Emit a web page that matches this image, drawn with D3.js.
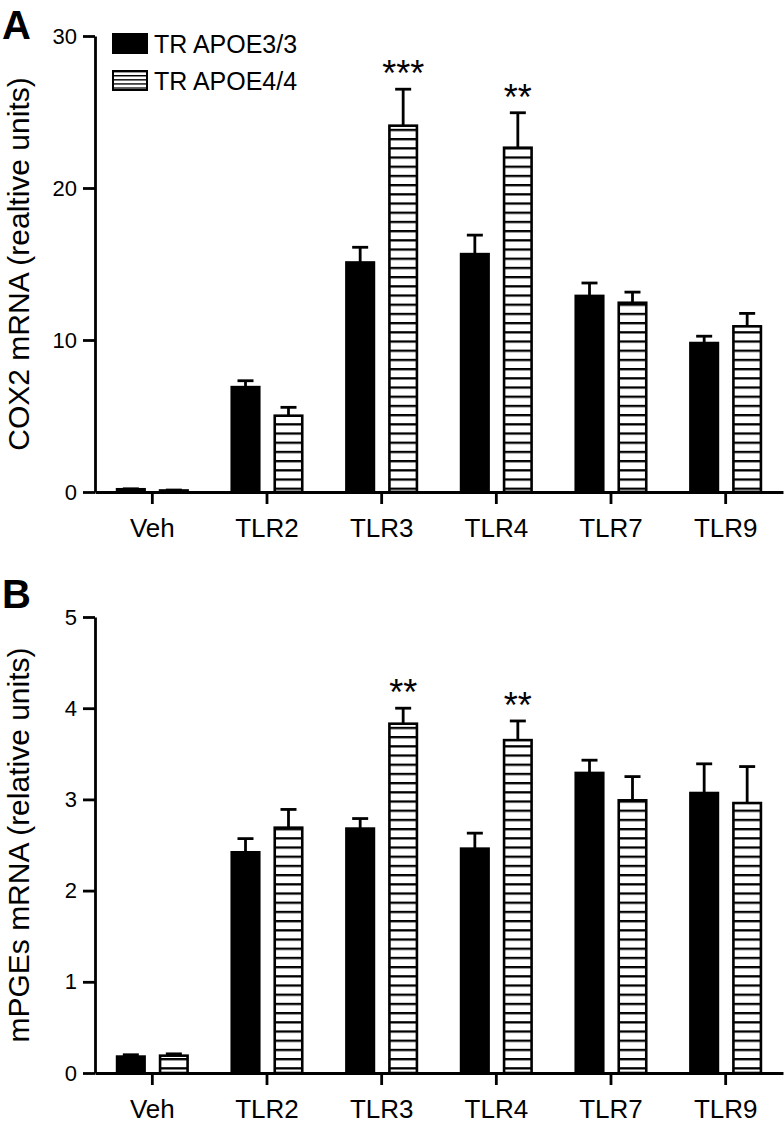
<!DOCTYPE html>
<html>
<head>
<meta charset="utf-8">
<script src="https://cdn.jsdelivr.net/npm/d3@7/dist/d3.min.js"></script>
<style>
  html, body { margin: 0; padding: 0; background: #fff; }
  svg { display: block; }
  text { font-family: "Liberation Sans", Arial, Helvetica, sans-serif; fill: #000; }
</style>
</head>
<body>
<svg id="chart" width="784" height="1127"></svg>
<script>
// ---------- data ----------
const categories = ["Veh", "TLR2", "TLR3", "TLR4", "TLR7", "TLR9"];
const seriesNames = ["TR APOE3/3", "TR APOE4/4"];

// Panel A: COX2 mRNA
const coxE3 = [0.18, 6.9, 15.1, 15.65, 12.9, 9.8];
const coxE3Err = [0.03, 0.42, 1.0, 1.25, 0.85, 0.45];
const coxE4 = [0.1, 5.02, 24.1, 22.65, 12.45, 10.9];
const coxE4Err = [0.03, 0.55, 2.4, 2.3, 0.7, 0.85];
const coxSig = ["", "", "***", "**", "", ""];
const coxTicks = [0, 10, 20, 30];

// Panel B: mPGEs mRNA
const pgeE3 = [0.18, 2.42, 2.68, 2.46, 3.29, 3.07];
const pgeE3Err = [0.02, 0.15, 0.11, 0.17, 0.14, 0.32];
const pgeE4 = [0.19, 2.69, 3.83, 3.65, 2.99, 2.96];
const pgeE4Err = [0.02, 0.2, 0.17, 0.21, 0.26, 0.4];
const pgeSig = ["", "", "**", "**", "", ""];
const pgeTicks = [0, 1, 2, 3, 4, 5];

// ---------- drawing ----------
const svg = d3.select("#chart");
const defs = svg.append("defs");

// hatch pattern for bars
const pat = defs.append("pattern")
  .attr("id", "hatch")
  .attr("patternUnits", "userSpaceOnUse")
  .attr("width", 10).attr("height", 9.2);
pat.append("rect").attr("width", 10).attr("height", 9.2).attr("fill", "#fff");
pat.append("rect").attr("x", 0).attr("y", 0).attr("width", 10).attr("height", 2.3).attr("fill", "#000");

// denser hatch for legend
const pat2 = defs.append("pattern")
  .attr("id", "hatchSmall")
  .attr("patternUnits", "userSpaceOnUse")
  .attr("width", 10).attr("height", 4.1);
pat2.append("rect").attr("width", 10).attr("height", 4.1).attr("fill", "#fff");
pat2.append("rect").attr("x", 0).attr("y", 0).attr("width", 10).attr("height", 1.3).attr("fill", "#000");

const axisLeftX = 95;
const axisRightX = 783;

const x = d3.scaleBand().domain(categories).range([axisLeftX, axisRightX]).padding(0);
const x1 = d3.scaleBand().domain(seriesNames).range([-36.5, 36.5]).paddingInner(0.302).paddingOuter(0);

function drawPanel(cfg) {
  const g = svg.append("g");
  const y = d3.scaleLinear().domain([0, cfg.max]).range([cfg.bottom, cfg.top]);

  const series = [
    { name: seriesNames[0], vals: cfg.e3, errs: cfg.e3Err, fill: "#000" },
    { name: seriesNames[1], vals: cfg.e4, errs: cfg.e4Err, fill: "url(#hatch)" }
  ];
  series.forEach(s => {
    const data = categories.map((c, i) => ({ c, v: s.vals[i], e: s.errs[i] }));
    const bw = x1.bandwidth();
    const cx = d => x(d.c) + x.bandwidth() / 2 + x1(s.name) + bw / 2;
    g.selectAll(null).data(data).enter().append("line")
      .attr("x1", cx).attr("x2", cx)
      .attr("y1", d => y(d.v)).attr("y2", d => y(d.v + d.e))
      .attr("stroke", "#000").attr("stroke-width", 2.8);
    g.selectAll(null).data(data).enter().append("line")
      .attr("x1", d => cx(d) - 8).attr("x2", d => cx(d) + 8)
      .attr("y1", d => y(d.v + d.e)).attr("y2", d => y(d.v + d.e))
      .attr("stroke", "#000").attr("stroke-width", 2.8);
    g.selectAll(null).data(data).enter().append("rect")
      .attr("x", d => x(d.c) + x.bandwidth() / 2 + x1(s.name) + 1.25)
      .attr("width", bw - 2.5)
      .attr("y", d => y(d.v))
      .attr("height", d => y(0) - y(d.v))
      .attr("fill", s.fill)
      .attr("stroke", "#000").attr("stroke-width", 2.6);
  });

  // significance stars (above hatched bars)
  const sigData = categories.map((c, i) => ({ c, s: cfg.sig[i], top: cfg.e4[i] + cfg.e4Err[i] }));
  g.selectAll(null).data(sigData.filter(d => d.s)).enter().append("text")
    .attr("x", d => x(d.c) + x.bandwidth() / 2 + x1(seriesNames[1]) + x1.bandwidth() / 2)
    .attr("y", d => y(d.top) - 3)
    .attr("text-anchor", "middle")
    .style("font-size", "36px")
    .text(d => d.s);

  // y axis
  const ya = g.append("g").attr("transform", `translate(${axisLeftX},0)`)
    .call(d3.axisLeft(y).tickValues(cfg.ticks).tickSize(12).tickSizeOuter(0).tickPadding(6).tickFormat(d3.format("d")));
  ya.attr("font-family", null).attr("font-size", null);
  ya.select(".domain").attr("stroke", "#000").attr("stroke-width", 2.8);
  ya.selectAll(".tick line").attr("stroke", "#000").attr("stroke-width", 2.8);
  ya.selectAll(".tick text").style("font-size", "22px");

  // x axis
  const xa = g.append("g").attr("transform", `translate(0,${cfg.bottom})`)
    .call(d3.axisBottom(x).tickSize(12).tickSizeOuter(0).tickPadding(0));
  xa.attr("font-family", null).attr("font-size", null);
  xa.select(".domain").attr("stroke", "#000").attr("stroke-width", 2.8);
  xa.selectAll(".tick line").attr("stroke", "#000").attr("stroke-width", 2.8);
  xa.selectAll(".tick text").style("font-size", "26px").attr("dy", null).attr("y", 45);

  // axis title
  g.append("text")
    .attr("transform", `translate(29,${(cfg.top + cfg.bottom) / 2}) rotate(-90)`)
    .attr("text-anchor", "middle")
    .style("font-size", "30px")
    .text(cfg.title);

  // panel letter
  g.append("text")
    .attr("x", 2).attr("y", cfg.letterY)
    .style("font-size", "40px").style("font-weight", "bold")
    .text(cfg.letter);
}

drawPanel({ top: 36, bottom: 492, max: 30, ticks: coxTicks, e3: coxE3, e3Err: coxE3Err, e4: coxE4, e4Err: coxE4Err,
  sig: coxSig, title: "COX2 mRNA (realtive units)", letter: "A", letterY: 39 });
drawPanel({ top: 617, bottom: 1073, max: 5, ticks: pgeTicks, e3: pgeE3, e3Err: pgeE3Err, e4: pgeE4, e4Err: pgeE4Err,
  sig: pgeSig, title: "mPGEs mRNA (relative units)", letter: "B", letterY: 608 });

// legend
const legend = svg.append("g").attr("transform", "translate(113,34)");
const legFills = ["#000", "url(#hatchSmall)"];
seriesNames.forEach((name, i) => {
  const row = legend.append("g").attr("transform", `translate(0,${i * 37})`);
  row.append("rect").attr("x", 0).attr("y", 0).attr("width", 34).attr("height", 19)
    .attr("fill", legFills[i]).attr("stroke", "#000").attr("stroke-width", 2);
  row.append("text").attr("x", 41).attr("y", 19).style("font-size", "25px").text(name);
});
</script>
</body>
</html>
